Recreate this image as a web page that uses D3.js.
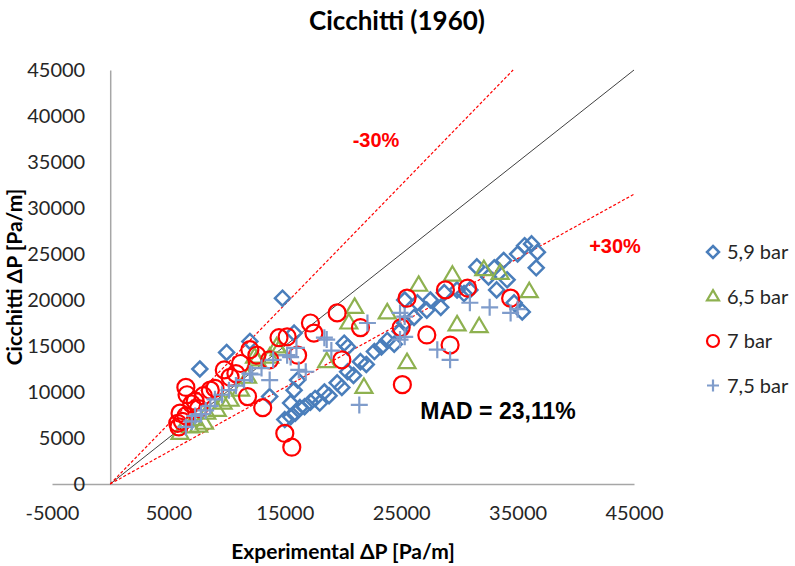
<!DOCTYPE html>
<html>
<head>
<meta charset="utf-8">
<script src="https://cdn.jsdelivr.net/npm/d3@7"></script>
<style>
  body { margin: 0; background: #fff; }
  text { font-family: Lato, "Open Sans", sans-serif; }
</style>
</head>
<body>
<div id="chart"></div>
<script>
// chart values
var xTicks = [-5000, 5000, 15000, 25000, 35000, 45000];
var yTicks = [0, 5000, 10000, 15000, 20000, 25000, 30000, 35000, 40000, 45000];
var seriesNames = ["5,9 bar", "6,5 bar", "7 bar", "7,5 bar"];

var bar59 = [
  [14800,20200],[7700,12500],[10000,14300],[12000,15500],[15800,16400],[20100,15300],[13700,9500],
  [20400,14900],[15800,10200],[16100,11300],[15000,7000],[15500,8800],[16700,8400],
  [15500,7300],[15900,7700],[16300,8300],[17200,8900],[17600,9300],[18000,8800],[18400,10000],
  [18800,9600],[19500,11000],[19900,10500],[20400,12200],[20900,11800],[21500,13300],[22000,13000],
  [22700,14400],[23300,14900],[23800,15600],[24400,15200],[24900,16600],[25300,17500],[25300,20000],
  [26100,18100],[26400,19700],[27200,18900],[27500,20000],[28400,19200],[28700,20800],[29800,21100],
  [30400,20700],[30900,21100],[31500,23600],[32500,22500],[33200,21100],[33800,24300],[34100,22200],
  [34700,19700],[35000,25000],[35600,25900],[36200,26100],[36700,25200],[36600,23500],[35400,18700],[33000,23500]
];
var bar65 = [
  [6000,5500],[6900,6200],[8100,6600],[8300,7700],[9200,8000],[10300,9100],[11200,10200],[11800,11600],
  [12600,13500],[13700,13800],[14300,14900],[12400,13800],[7200,7000],[7600,6300],[9700,8800],[14500,14600],
  [18600,13300],[20500,17500],[21000,19200],[21800,10500],[23800,18600],[25500,13200],[26500,21600],
  [29400,22700],[32100,23300],[33500,22900],[29800,17300],[31700,17100],[36000,20900]
];
var bar7 = [
  [5800,6600],[6000,7700],[5900,6200],[6200,6800],[6500,10500],[6600,9700],[6500,7400],[7000,8700],
  [7300,9000],[7600,8200],[8000,9600],[8600,10200],[9000,10400],[9800,12400],[10300,11600],[10800,12000],
  [11200,13100],[12000,14600],[12600,14000],[13700,13500],[14500,15900],[16100,14000],[17200,17500],
  [17500,16400],[19500,18600],[11800,9500],[13100,8300],[15000,5500],[15600,4000],[19900,13500],
  [21500,17000],[25000,17000],[25500,20200],[28800,21100],[30700,21300],[34400,20200],[25100,10800],
  [29200,15100],[27200,16200],[15200,16000]
];
var bar75 = [
  [6500,6200],[7000,6800],[7300,7400],[7800,7600],[8200,8000],[8600,8500],[9000,9200],[9600,9700],
  [10200,10200],[10800,10700],[11500,11300],[12200,11900],[13000,12600],[13700,11300],[14000,13500],
  [15200,14000],[15500,13800],[16200,12400],[16800,12200],[18400,15900],[18600,15700],[21400,8600],
  [22100,17500],[24900,15700],[25300,18200],[24900,18600],[25300,16000],[28100,14600],[29200,13500],
  [30900,19700],[32600,19200],[34400,18600],[35000,19000],[19000,14500],[12000,12000],[16000,14800]
];
var refLines = [[0, 45000, 1.0], [0, 45000 / 1.3, 1.3], [0, 45000, 0.7]];

var svgWidth = 795, svgHeight = 566;
var colors = ["#4A7EBB", "#8EB150", "#FF0000", "#7F9CCB"];
var arialBold = "'Liberation Sans', Arial, sans-serif";

var svg = d3.select("#chart").append("svg")
  .attr("width", svgWidth)
  .attr("height", svgHeight);

var x = d3.scaleLinear().domain([-5000, 45000]).range([52, 634]);
var y = d3.scaleLinear().domain([0, 45000]).range([484, 70]);

// axes
var xAxis = svg.append("g")
  .attr("transform", "translate(0," + y(0) + ")")
  .call(d3.axisBottom(x).tickValues(xTicks).tickSize(0).tickPadding(22).tickFormat(function (d) { return String(d); }));
var yAxis = svg.append("g")
  .attr("transform", "translate(" + x(0) + ",0)")
  .call(d3.axisLeft(y).tickValues(yTicks).tickSize(0).tickPadding(25).tickFormat(function (d) { return String(d); }));

[xAxis, yAxis].forEach(function (a) {
  a.select(".domain").attr("stroke", "#A6A6A6").attr("stroke-width", 1.5);
  a.selectAll("text").attr("font-size", 20).attr("fill", "#262626");
});

// reference lines
var lines = svg.append("g");
refLines.forEach(function (r, i) {
  lines.append("line")
    .attr("x1", x(r[0])).attr("y1", y(r[0] * r[2]))
    .attr("x2", x(r[1])).attr("y2", y(r[1] * r[2]))
    .attr("stroke", i == 0 ? "#404040" : "#FF0000")
    .attr("stroke-width", i == 0 ? 1 : 1.2)
    .attr("stroke-dasharray", i == 0 ? null : "3,2");
});

// markers
function marker(g, type, color, s) {
  if (type == 0) {
    g.append("path").attr("d", "M0," + (-s) + "L" + s + ",0L0," + s + "L" + (-s) + ",0Z")
      .attr("fill", "none").attr("stroke", color).attr("stroke-width", 2.5);
  } else if (type == 1) {
    var h = s * 1.7;
    g.append("path").attr("d", "M0," + (-h * 0.62) + "L" + s + "," + (h * 0.38) + "L" + (-s) + "," + (h * 0.38) + "Z")
      .attr("fill", "none").attr("stroke", color).attr("stroke-width", 2.2);
  } else if (type == 2) {
    g.append("circle").attr("r", s).attr("fill", "none").attr("stroke", color).attr("stroke-width", 2.2);
  } else {
    g.append("path").attr("d", "M" + (-s) + ",0H" + s + "M0," + (-s) + "V" + s)
      .attr("fill", "none").attr("stroke", color).attr("stroke-width", 2.2);
  }
}
var sizes = [7.5, 8.5, 8.5, 8.5];
[bar59, bar65, bar7, bar75].forEach(function (data, k) {
  svg.append("g").selectAll("g")
    .data(data)
    .enter().append("g")
    .attr("transform", function (d) { return "translate(" + x(d[0]) + "," + y(d[1]) + ")"; })
    .each(function () { marker(d3.select(this), k, colors[k], sizes[k]); });
});

// annotations (Arial-like bold, set as style so the css rule does not win)
svg.append("text").attr("x", 376).attr("y", 147).attr("text-anchor", "middle")
  .style("font-family", arialBold).attr("font-weight", "bold")
  .attr("font-size", 20).attr("fill", "#FF0000").text("-30%");
svg.append("text").attr("x", 615).attr("y", 253).attr("text-anchor", "middle")
  .style("font-family", arialBold).attr("font-weight", "bold")
  .attr("font-size", 20).attr("fill", "#FF0000").text("+30%");
svg.append("text").attr("x", 498).attr("y", 419).attr("text-anchor", "middle")
  .style("font-family", arialBold).attr("font-weight", "bold")
  .attr("font-size", 23).attr("fill", "#000").text("MAD = 23,11%");

// titles
svg.append("text").attr("x", 397).attr("y", 30).attr("text-anchor", "middle")
  .attr("font-weight", "bold").attr("font-size", 26).attr("fill", "#000").text("Cicchitti (1960)");
svg.append("text").attr("x", 343).attr("y", 559).attr("text-anchor", "middle")
  .attr("font-weight", "bold").attr("font-size", 21).attr("fill", "#000").text("Experimental ΔP [Pa/m]");
svg.append("text").attr("transform", "translate(22,277) rotate(-90)").attr("text-anchor", "middle")
  .attr("font-weight", "bold").attr("font-size", 21).attr("fill", "#000").text("Cicchitti ΔP [Pa/m]");

// legend
var legend = svg.append("g");
seriesNames.forEach(function (name, k) {
  var ly = 252 + k * 44.5;
  var g = legend.append("g").attr("transform", "translate(713," + ly + ")");
  marker(g, k, colors[k], 6);
  legend.append("text").attr("x", 727).attr("y", ly).attr("dy", "0.35em")
    .attr("font-size", 20).attr("fill", "#262626").text(name);
});
</script>
</body>
</html>
